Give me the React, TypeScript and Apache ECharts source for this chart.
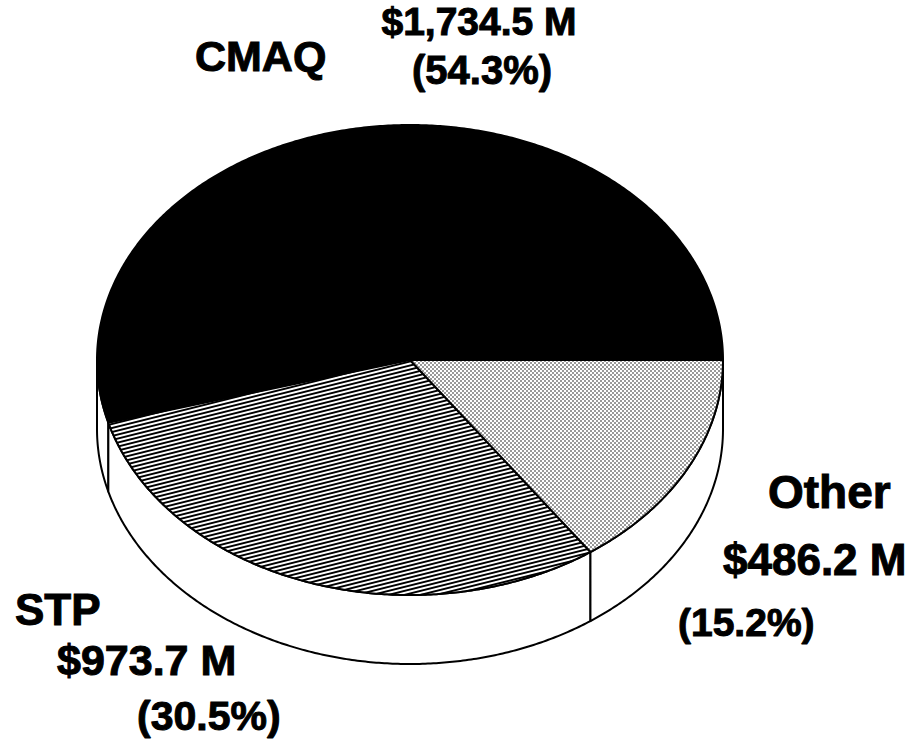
import React, { useEffect, useRef } from 'react';
import * as echarts from 'echarts';

// ---- data ----
const categories = ['CMAQ', 'STP', 'Other'];
const amounts = [1734.5, 973.7, 486.2]; // $ millions
const percents = [54.3, 30.5, 15.2];

// ---- layout (not data) ----
const CX = 410;
const CY = 360;
const RX = 313;
const RY = 235;
const DEPTH = 69;
const FONT = '"Liberation Sans", Arial, Helvetica, sans-serif';

type LabelLine = { kind: 'name' | 'amount' | 'pct'; x: number; y: number; size: number; align: 'left' | 'center' };
const labelLayout: LabelLine[][] = [
  [
    { kind: 'name', x: 195, y: 73, size: 43, align: 'left' },
    { kind: 'amount', x: 479, y: 37, size: 39, align: 'center' },
    { kind: 'pct', x: 482, y: 86, size: 40, align: 'center' },
  ],
  [
    { kind: 'name', x: 15, y: 627, size: 44, align: 'left' },
    { kind: 'amount', x: 57, y: 677, size: 43, align: 'left' },
    { kind: 'pct', x: 137, y: 732, size: 41, align: 'left' },
  ],
  [
    { kind: 'name', x: 768, y: 510, size: 46, align: 'left' },
    { kind: 'amount', x: 723, y: 577, size: 44, align: 'left' },
    { kind: 'pct', x: 678, y: 638, size: 39, align: 'left' },
  ],
];

function hatchPattern(): any {
  const c = document.createElement('canvas');
  c.width = 16;
  c.height = 4;
  const g = c.getContext('2d')!;
  g.fillStyle = '#fff';
  g.fillRect(0, 0, 16, 4);
  g.strokeStyle = '#000';
  g.lineWidth = 1.9;
  for (const off of [-4, 0, 4]) {
    g.beginPath();
    g.moveTo(-1, 4 + off + 0.25);
    g.lineTo(17, off - 0.25);
    g.stroke();
  }
  return { image: c, repeat: 'repeat', imageWidth: 16, imageHeight: 4 };
}

function dotPattern(): any {
  const c = document.createElement('canvas');
  c.width = 4;
  c.height = 4;
  const g = c.getContext('2d')!;
  g.fillStyle = '#fff';
  g.fillRect(0, 0, 4, 4);
  g.fillStyle = '#000';
  for (const [x, y] of [[1, 1], [3, 3]]) {
    g.beginPath();
    g.arc(x, y, 0.75, 0, Math.PI * 2);
    g.fill();
  }
  return { image: c, repeat: 'repeat', imageWidth: 4, imageHeight: 4 };
}

function arc(a0: number, a1: number, dy: number): number[][] {
  const pts: number[][] = [];
  const n = Math.max(2, Math.ceil(((a1 - a0) * 180) / Math.PI / 0.5));
  for (let k = 0; k <= n; k++) {
    const t = a0 + ((a1 - a0) * k) / n;
    pts.push([CX + RX * Math.cos(t), CY + dy + RY * Math.sin(t)]);
  }
  return pts;
}

function fmtAmount(v: number): string {
  return '$' + v.toLocaleString('en-US', { minimumFractionDigits: 1, maximumFractionDigits: 1 }) + ' M';
}

export default function App() {
  const ref = useRef<HTMLDivElement>(null);
  useEffect(() => {
    if (!ref.current) return;
    const chart = echarts.init(ref.current, undefined, { renderer: 'svg' });
    const fills = ['#000', hatchPattern(), dotPattern()];
    const total = amounts.reduce((a, b) => a + b, 0);

    const renderItem = (params: any, api: any) => {
      const i = params.dataIndex;
      const v = api.value(0);
      const pct = api.value(1);
      let cum = 0;
      for (let k = 0; k < i; k++) cum += amounts[k];
      const end = Math.PI * 2 - (cum / total) * Math.PI * 2;
      const start = end - (v / total) * Math.PI * 2;

      const children: any[] = [];
      const s = Math.max(start, 0);
      const e = Math.min(end, Math.PI);
      if (e > s) {
        const pts = [...arc(s, e, 0), ...arc(s, e, DEPTH).reverse()];
        children.push({
          type: 'polygon',
          shape: { points: pts },
          style: { fill: '#fff', stroke: '#000', lineWidth: 2, lineJoin: 'round' },
        });
      }
      children.push({
        type: 'polygon',
        shape: { points: [[CX, CY], ...arc(start, end, 0)] },
        style: { fill: fills[i], stroke: '#000', lineWidth: 2, lineJoin: 'round' },
      });

      const texts: Record<string, string> = {
        name: categories[i],
        amount: fmtAmount(v),
        pct: '(' + pct.toFixed(1) + '%)',
      };
      for (const l of labelLayout[i]) {
        children.push({
          type: 'text',
          x: l.x,
          y: l.y - 0.4 * l.size,
          style: {
            text: texts[l.kind],
            fill: '#000',
            stroke: '#000',
            lineWidth: 1,
            fontSize: l.size,
            fontWeight: 'bold',
            fontFamily: FONT,
            align: l.align,
            textAlign: l.align,
            verticalAlign: 'middle',
            textVerticalAlign: 'middle',
          },
        });
      }
      return { type: 'group', children };
    };

    chart.setOption({
      animation: false,
      backgroundColor: '#fff',
      series: [
        {
          type: 'custom',
          coordinateSystem: 'none',
          silent: true,
          renderItem,
          data: amounts.map((v, i) => ({ name: categories[i], value: [v, percents[i]] })),
        },
      ],
    });
    return () => chart.dispose();
  }, []);

  return (
    <div
      ref={ref}
      style={{ position: 'fixed', left: 0, top: 0, width: 915, height: 741, background: '#fff' }}
    />
  );
}
